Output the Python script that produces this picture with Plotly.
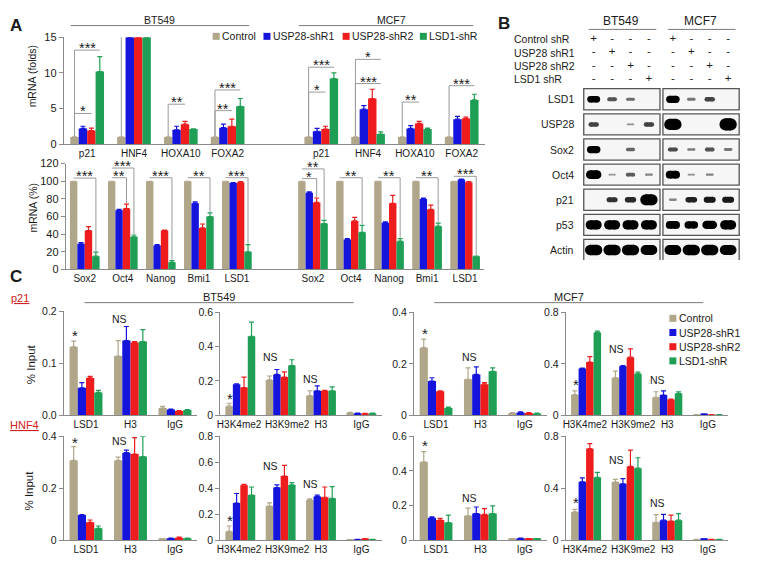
import plotly.graph_objects as go

W, H = 768, 573
FONT = "Liberation Sans, Arial, sans-serif"
AXC = "#8a8a8a"
TXT = "#1a1a1a"

SERIES = ["Control", "USP28-shR1", "USP28-shR2", "LSD1-shR"]
COLORS = ["#b0a68a", "#1414dc", "#ee1c1c", "#1f9f55"]

# ---------------- Panel A top: mRNA (folds) ----------------
A1_CATS = ["p21", "HNF4", "HOXA10", "FOXA2", "", "p21", "HNF4", "HOXA10", "FOXA2"]
A1_CTRL = [1, 1, 1, 1, None, 1, 1, 1, 1]
A1_R1 = [2.2, 15, 2.0, 2.3, None, 1.8, 4.9, 2.2, 3.5]
A1_R2 = [1.9, 15, 2.8, 2.5, None, 2.1, 6.4, 2.9, 3.6]
A1_LSD = [10.2, 15, 2.1, 5.3, None, 9.2, 1.4, 2.1, 6.2]
A1_ERR_CTRL = [0, 0, 0, 0, None, 0, 0, 0, 0]
A1_ERR_R1 = [0.3, 0, 0.5, 0.5, None, 0.4, 0.5, 0.4, 0.4]
A1_ERR_R2 = [0.35, 0, 0.4, 1.0, None, 0.4, 1.3, 0.3, 0.2]
A1_ERR_LSD = [2.1, 0, 0.05, 1.1, None, 0.8, 0.3, 0.15, 0.8]
# (category index, target series, bracket level, label)
A1_BRACKETS = [(0, 3, 13.2, "***"), (0, 2, 4.3, "*"), (1, 3, 15.5, "***"), (2, 2, 5.6, "**"),
               (3, 3, 7.6, "***"), (3, 2, 4.7, "**"), (5, 3, 10.8, "***"), (5, 2, 7.3, "*"),
               (6, 3, 11.9, "*"), (6, 3, 8.5, "***"), (7, 2, 5.9, "**"), (8, 3, 8.2, "***")]

# ---------------- Panel A bottom: mRNA (%) ----------------
A2_CATS = ["Sox2", "Oct4", "Nanog", "Bmi1", "LSD1", "", "Sox2", "Oct4", "Nanog", "Bmi1", "LSD1"]
A2_CTRL = [100, 100, 100, 100, 100, None, 100, 100, 100, 100, 100]
A2_R1 = [29, 67, 27, 75, 98, None, 87, 34, 53, 80, 102]
A2_R2 = [44, 69, 44, 47, 99, None, 76, 55, 75, 68, 99]
A2_LSD = [15, 37, 8, 60, 20, None, 52, 42, 32, 49, 15]
A2_ERR_CTRL = [0, 0, 0, 0, 0, None, 0, 0, 0, 0, 0]
A2_ERR_R1 = [1.5, 1, 1, 1.5, 0.5, None, 1, 1, 1, 1, 0.5]
A2_ERR_R2 = [4.5, 5, 0.5, 4.5, 0.5, None, 5, 4, 9, 5, 0.5]
A2_ERR_LSD = [4.5, 2, 2, 4, 8, None, 3.5, 8, 3, 3.5, 0]
A2_BRACKETS = [(0, 3, 103.6, "***"), (1, 2, 104, "**"), (1, 3, 115, "***"), (2, 3, 104, "***"),
               (3, 3, 104, "**"), (4, 3, 104, "***"), (6, 2, 103, "*"), (6, 3, 114, "**"),
               (7, 3, 104, "**"), (8, 3, 104, "**"), (9, 3, 104, "**"), (10, 3, 105.6, "***")]

# ---------------- Panel C: ChIP % input ----------------
C_CATS_A = ["LSD1", "H3", "IgG"]
C_CATS_B = ["H3K4me2", "H3K9me2", "H3", "IgG"]
# p21 promoter, BT549
C1_VALS = [[0.132, 0.114, 0.014], [0.053, 0.144, 0.011], [0.072, 0.140, 0.008], [0.044, 0.142, 0.010]]
C1_ERRS = [[0.011, 0.030, 0.003], [0.010, 0.027, 0.001], [0.003, 0.002, 0.001], [0.004, 0.023, 0.001]]
C2_VALS = [[0.053, 0.206, 0.114, 0.015], [0.181, 0.238, 0.143, 0.011], [0.162, 0.223, 0.143, 0.010], [0.461, 0.290, 0.143, 0.011]]
C2_ERRS = [[0.017, 0.023, 0.029, 0.002], [0.003, 0.029, 0.028, 0.001], [0.061, 0.030, 0.002, 0.001], [0.082, 0.034, 0.023, 0.001]]
# p21 promoter, MCF7
C3_VALS = [[0.263, 0.140, 0.009], [0.133, 0.159, 0.011], [0.093, 0.121, 0.009], [0.028, 0.171, 0.007]]
C3_ERRS = [[0.033, 0.044, 0.001], [0.013, 0.029, 0.002], [0.002, 0.006, 0.001], [0.004, 0.013, 0.001]]
C4_VALS = [[0.160, 0.292, 0.140, 0.004], [0.363, 0.381, 0.157, 0.007], [0.414, 0.452, 0.122, 0.005], [0.643, 0.323, 0.170, 0.004]]
C4_ERRS = [[0.030, 0.051, 0.043, 0.001], [0.004, 0.006, 0.033, 0.001], [0.043, 0.064, 0.004, 0.001], [0.012, 0.012, 0.013, 0.001]]
# HNF4 promoter, BT549
C5_VALS = [[0.307, 0.307, 0.004], [0.097, 0.337, 0.007], [0.069, 0.332, 0.010], [0.046, 0.322, 0.007]]
C5_ERRS = [[0.053, 0.013, 0.001], [0.002, 0.010, 0.001], [0.009, 0.063, 0.002], [0.009, 0.078, 0.001]]
C6_VALS = [[0.068, 0.263, 0.310, 0.004], [0.286, 0.406, 0.336, 0.006], [0.424, 0.494, 0.331, 0.008], [0.348, 0.426, 0.323, 0.006]]
C6_ERRS = [[0.042, 0.025, 0.008, 0.001], [0.074, 0.020, 0.012, 0.001], [0.006, 0.083, 0.079, 0.002], [0.062, 0.017, 0.090, 0.001]]
# HNF4 promoter, MCF7
C7_VALS = [[0.452, 0.141, 0.008], [0.130, 0.154, 0.011], [0.117, 0.149, 0.009], [0.102, 0.154, 0.008]]
C7_ERRS = [[0.060, 0.045, 0.002], [0.005, 0.038, 0.001], [0.009, 0.034, 0.001], [0.043, 0.044, 0.001]]
C8_VALS = [[0.218, 0.448, 0.138, 0.006], [0.450, 0.435, 0.155, 0.008], [0.705, 0.568, 0.148, 0.007], [0.485, 0.555, 0.155, 0.006]]
C8_ERRS = [[0.020, 0.020, 0.060, 0.001], [0.030, 0.040, 0.045, 0.001], [0.038, 0.125, 0.045, 0.001], [0.038, 0.080, 0.050, 0.001]]
# significance labels: (category index, text, level)
C1_MARKS = [(0, "*", 0.161), (1, "NS", 0.186)]
C2_MARKS = [(0, "*", 0.116), (1, "NS", 0.339), (2, "NS", 0.213)]
C3_MARKS = [(0, "*", 0.333), (1, "NS", 0.226)]
C4_MARKS = [(0, "*", 0.269), (1, "NS", 0.513), (2, "NS", 0.277)]
C5_MARKS = [(0, "*", 0.390), (1, "NS", 0.382)]
C6_MARKS = [(0, "*", 0.178), (1, "NS", 0.569), (2, "NS", 0.434)]
C7_MARKS = [(0, "*", 0.568), (1, "NS", 0.246)]
C8_MARKS = [(0, "*", 0.321), (1, "NS", 0.614), (2, "NS", 0.283)]

# ---------------- Panel B: western blots ----------------
CELL_LINES = ["BT549", "MCF7"]
TREATMENTS = ["Control shR", "USP28 shR1", "USP28 shR2", "LSD1 shR"]
BLOT_ROWS = ["LSD1", "USP28", "Sox2", "Oct4", "p21", "p53", "Actin"]
BLOT_BT549 = [[1.0, 0.5, 0.35, 0], [0.6, 0, 0.12, 0.6], [1.1, 0, 0.4, 0], [1.4, 0.1, 0.45, 0.2],
              [0, 0.7, 0.75, 1.8], [1.5, 1.5, 1.5, 1.5], [1.7, 1.7, 1.7, 1.6]]
BLOT_MCF7 = [[1.1, 0.3, 0.6, 0], [1.8, 0, 0, 2.0], [0.55, 0.25, 0.5, 0.3], [1.2, 0.12, 0.2, 0],
             [0.2, 0.8, 0.85, 0.85], [1.2, 1.1, 1.3, 1.5], [1.6, 1.7, 1.7, 1.6]]

# ============================================================
fig = go.Figure()
layout = {}
ann = []
shapes = []


def names(n):
    s = "" if n == 1 else str(n)
    return "x" + s, "y" + s, "xaxis" + s, "yaxis" + s


def P(xpx, ypx):
    return xpx / W, 1 - ypx / H


TICK_AXIS_BASE = 20


def add_bar_axes(n, xpx, ypx, cats, yr, ytv, ytt, xfont=10, yfont=11, label_nudge=None):
    xr, yr_, xk, yk = names(n)
    rng = [-0.5, len(cats) - 0.5]
    nudge = label_nudge or [0] * len(cats)
    layout[xk] = dict(domain=[xpx[0] / W, xpx[1] / W], anchor=yr_, range=rng,
                      tickmode="array", tickvals=[k + d for k, d in zip(range(len(cats)), nudge)],
                      ticktext=cats, ticks="",
                      tickangle=0, showline=True, linecolor=AXC, linewidth=1, showgrid=False,
                      zeroline=False, tickfont=dict(size=xfont, color=TXT), fixedrange=True)
    layout[yk] = dict(domain=[1 - ypx[1] / H, 1 - ypx[0] / H], anchor=xr, range=yr,
                      tickmode="array", tickvals=ytv, ticktext=ytt, ticks="outside", ticklen=4,
                      tickcolor=AXC, showline=True, linecolor=AXC, linewidth=1, showgrid=False,
                      zeroline=False, tickfont=dict(size=yfont, color=TXT), fixedrange=True)
    tk = "xaxis" + str(TICK_AXIS_BASE + n)
    layout[tk] = dict(overlaying=xr, anchor=yr_, range=rng, tickmode="array",
                      tickvals=[k - 0.5 for k in range(len(cats) + 1)], ticks="outside",
                      ticklen=4, tickcolor=AXC, showticklabels=False, showline=False,
                      showgrid=False, zeroline=False, fixedrange=True)


def bar_center(k, i, gw):
    return k - gw / 2 + (i + 0.5) * gw / 4


def add_bars(n, vals, errs, gw):
    xr, yr_, _, _ = names(n)
    for i in range(4):
        v, e = vals[i], errs[i]
        fig.add_trace(go.Bar(
            x=list(range(len(v))), y=v, width=gw / 4, offset=-gw / 2 + i * gw / 4,
            marker=dict(color=COLORS[i], line=dict(width=0)),
            error_y=dict(type="data", symmetric=False, array=[x if x is not None else 0 for x in e],
                         arrayminus=[0] * len(e), color=COLORS[i], thickness=1.2, width=2.5),
            xaxis=xr, yaxis=yr_, showlegend=False, hoverinfo="skip", name=SERIES[i]))


def add_brackets(n, brackets, vals, errs, gw, side, gap):
    xr, yr_, _, _ = names(n)
    for (k, t, lvl, lab) in brackets:
        x0 = bar_center(k, 0, gw)
        x1 = bar_center(k, t, gw)
        if side == "left":
            base = vals[0][k] + (errs[0][k] or 0) + gap
            xs, ys = [x0, x0, x1], [base, lvl, lvl]
        else:
            base = vals[t][k] + (errs[t][k] or 0) + gap
            xs, ys = [x0, x1, x1], [lvl, lvl, base]
        fig.add_trace(go.Scatter(x=xs, y=ys, mode="lines", line=dict(color="#9a9a9a", width=1),
                                 xaxis=xr, yaxis=yr_, showlegend=False, cliponaxis=False,
                                 hoverinfo="skip"))
        ann.append(dict(x=(x0 + x1) / 2, y=lvl, xref=xr, yref=yr_, text=lab, showarrow=False,
                        yanchor="bottom", yshift=-8, font=dict(size=14.5, color=TXT)))


def add_marks(n, marks):
    xr, yr_, _, _ = names(n)
    for (k, lab, lvl) in marks:
        star = lab == "*"
        ann.append(dict(x=k - 0.25, y=lvl, xref=xr, yref=yr_, text=lab, showarrow=False,
                        yanchor="middle", yshift=-3.5 if star else 0,
                        font=dict(size=15 if star else 10.5, color=TXT)))


# ---- Panel A top
A1_VALS = [A1_CTRL, A1_R1, A1_R2, A1_LSD]
A1_ERRS = [A1_ERR_CTRL, A1_ERR_R1, A1_ERR_R2, A1_ERR_LSD]
add_bar_axes(1, (61, 484), (32, 141), A1_CATS, [0, 15], [0, 5, 10, 15], ["0", "5", "10", "15"])
add_bars(1, A1_VALS, A1_ERRS, 0.72)
add_brackets(1, A1_BRACKETS, A1_VALS, A1_ERRS, 0.72, "left", 0.1)

# ---- Panel A bottom
A2_VALS = [A2_CTRL, A2_R1, A2_R2, A2_LSD]
A2_ERRS = [A2_ERR_CTRL, A2_ERR_R1, A2_ERR_R2, A2_ERR_LSD]
add_bar_axes(2, (63, 483), (161, 269), A2_CATS, [0, 120], [0, 20, 40, 60, 80, 100, 120],
             ["0", "20", "40", "60", "80", "100", "120"])
add_bars(2, A2_VALS, A2_ERRS, 0.78)
add_brackets(2, A2_BRACKETS, A2_VALS, A2_ERRS, 0.78, "right", 1)

# ---- Panel C
NUDGE_B = [-0.03, 0.16, 0, 0]   # label offsets (layout only) so long labels do not collide
C_SPECS = [
    (3, (61, 195), (312, 418), C_CATS_A, C1_VALS, C1_ERRS, C1_MARKS, [0, 0.2], [0, 0.1, 0.2], ["0.0", "0.1", "0.2"]),
    (4, (218, 380), (313, 418), C_CATS_B, C2_VALS, C2_ERRS, C2_MARKS, [0, 0.6], [0, 0.2, 0.4, 0.6], ["0", "0.2", "0.4", "0.6"]),
    (5, (412.5, 546), (313, 418), C_CATS_A, C3_VALS, C3_ERRS, C3_MARKS, [0, 0.4], [0, 0.2, 0.4], ["0", "0.2", "0.4"]),
    (6, (565, 728), (313, 418), C_CATS_B, C4_VALS, C4_ERRS, C4_MARKS, [0, 0.8], [0, 0.4, 0.8], ["0", "0.4", "0.8"]),
    (7, (61, 195), (439.5, 545.7), C_CATS_A, C5_VALS, C5_ERRS, C5_MARKS, [0, 0.4], [0, 0.2, 0.4], ["0", "0.2", "0.4"]),
    (8, (218, 380), (439.5, 545.7), C_CATS_B, C6_VALS, C6_ERRS, C6_MARKS, [0, 0.8], [0, 0.2, 0.4, 0.6, 0.8], ["0", "0.2", "0.4", "0.6", "0.8"]),
    (9, (412.5, 546), (439.5, 545.7), C_CATS_A, C7_VALS, C7_ERRS, C7_MARKS, [0, 0.6], [0, 0.2, 0.4, 0.6], ["0", "0.2", "0.4", "0.6"]),
    (10, (565, 728), (439.5, 545.7), C_CATS_B, C8_VALS, C8_ERRS, C8_MARKS, [0, 0.8], [0, 0.4, 0.8], ["0", "0.4", "0.8"]),
]
for (n, xpx, ypx, cats, vals, errs, marks, yr, ytv, ytt) in C_SPECS:
    nud = NUDGE_B if cats is C_CATS_B else None
    add_bar_axes(n, xpx, ypx, cats, yr, ytv, ytt, xfont=10, yfont=10.5, label_nudge=nud)
    add_bars(n, vals, errs, 0.74)
    add_marks(n, marks)

# ---- Panel B (blot axis n=11)
xr, yr_, xk, yk = names(11)
layout[xk] = dict(domain=[500 / W, 740 / W], anchor=yr_, range=[-5.03, 7.95], visible=False, fixedrange=True)
layout[yk] = dict(domain=[1 - 259.5 / H, 1 - 8 / H], anchor=xr, range=[6.4, -3.4], visible=False, fixedrange=True)
LANE_START = [0, 4.3]
blots = [BLOT_BT549, BLOT_MCF7]
for c, cell in enumerate(CELL_LINES):
    lanes = [LANE_START[c] + j for j in range(len(TREATMENTS))]
    ann.append(dict(x=sum(lanes) / len(lanes), y=-3.13, xref=xr, yref=yr_, text=cell, showarrow=False,
                    font=dict(size=12, color=TXT)))
    shapes.append(dict(type="line", xref=xr, yref=yr_, x0=lanes[0] - 0.27, x1=lanes[-1] + 0.4,
                       y0=-2.78, y1=-2.78, line=dict(color="#7a7a7a", width=1)))
    xs, ys, ts = [], [], []
    for r in range(len(TREATMENTS)):
        for j, xl in enumerate(lanes):
            xs.append(xl)
            ys.append(-2.39 + r * 0.533)
            ts.append("+" if j == r else "-")
    fig.add_trace(go.Scatter(x=xs, y=ys, text=ts, mode="text", textfont=dict(size=11.5, color=TXT),
                             xaxis=xr, yaxis=yr_, showlegend=False, hoverinfo="skip", cliponaxis=False))
    for r, row in enumerate(BLOT_ROWS):
        shapes.append(dict(type="rect", xref=xr, yref=yr_, x0=lanes[0] - 0.54, x1=lanes[-1] + 0.6,
                           y0=r - 0.42, y1=r + 0.42, line=dict(color="#555555", width=1.3),
                           fillcolor="#f6f6f6", layer="below"))
        for xl, I in zip(lanes, blots[c][r]):
            if I <= 0:
                continue
            a = min(1.0, 0.3 + 0.7 * I)
            g = int(round(240 * (1 - a)))
            col = f"rgb({g},{g},{g})"
            w = 1.2 + 5.5 * I
            hl = max(0.02, 0.18 + 0.17 * min(I, 1.7) - (w / 2) / 18.49)
            fig.add_trace(go.Scatter(x=[xl - hl, xl + hl], y=[r, r], mode="lines+markers",
                                     line=dict(color=col, width=w),
                                     marker=dict(size=w, color=col, line=dict(width=0)),
                                     xaxis=xr, yaxis=yr_, showlegend=False, hoverinfo="skip"))
for r, t in enumerate(TREATMENTS):
    ann.append(dict(x=-4.43, y=-2.39 + r * 0.533, xref=xr, yref=yr_, text=t, showarrow=False,
                    xanchor="left", font=dict(size=10.5, color=TXT)))
for r, row in enumerate(BLOT_ROWS):
    ann.append(dict(x=-0.97, y=r, xref=xr, yref=yr_, text=row, showarrow=False,
                    xanchor="right", font=dict(size=10.5, color=TXT)))

# ---- overlay axis (n=12) in pixel units for legends
xo, yo, xk, yk = names(12)
layout[xk] = dict(domain=[0, 1], anchor=yo, range=[0, W], visible=False, fixedrange=True)
layout[yk] = dict(domain=[0, 1], anchor=xo, range=[H, 0], visible=False, fixedrange=True)
LEG_A_X = [214, 265, 344.5, 422]
fig.add_trace(go.Scatter(x=LEG_A_X, y=[31] * 4, mode="markers",
                         marker=dict(symbol="square", size=7, color=COLORS, line=dict(width=0)),
                         xaxis=xo, yaxis=yo, showlegend=False, hoverinfo="skip"))
for x, s in zip(LEG_A_X, SERIES):
    ann.append(dict(x=x + 4, y=31, xref=xo, yref=yo, text=s, showarrow=False, xanchor="left",
                    font=dict(size=10.5, color=TXT)))
LEG_C_Y = [319, 333.5, 348, 362.5]
fig.add_trace(go.Scatter(x=[672.5] * 4, y=LEG_C_Y, mode="markers",
                         marker=dict(symbol="square", size=7, color=COLORS, line=dict(width=0)),
                         xaxis=xo, yaxis=yo, showlegend=False, hoverinfo="skip"))
for y, s in zip(LEG_C_Y, SERIES):
    ann.append(dict(x=677, y=y, xref=xo, yref=yo, text=s, showarrow=False, xanchor="left",
                    font=dict(size=10.5, color=TXT)))


def text_px(x, y, t, size=12, bold=False, color=TXT, angle=0, xanchor="center"):
    px_, py_ = P(x, y)
    ann.append(dict(x=px_, y=py_, xref="paper", yref="paper", text=f"<b>{t}</b>" if bold else t,
                    showarrow=False, textangle=angle, xanchor=xanchor, yanchor="middle",
                    font=dict(size=size, color=color)))


def line_px(x0, x1, y):
    a0, b0 = P(x0, y)
    a1, _ = P(x1, y)
    shapes.append(dict(type="line", xref="paper", yref="paper", x0=a0, x1=a1, y0=b0, y1=b0,
                       line=dict(color="#7a7a7a", width=1)))


text_px(13, 20, "A", 17, True)
text_px(503, 18, "B", 17, True)
text_px(13, 276, "C", 17, True)
text_px(157, 14, "BT549", 10.5)
line_px(68, 247, 20)
text_px(390, 14, "MCF7", 10.5)
line_px(297, 472, 20)
text_px(217, 297, "BT549", 11)
line_px(82, 352, 303)
text_px(568, 297, "MCF7", 11)
line_px(433, 703, 303)
text_px(30, 72, "mRNA (folds)", 10.5, angle=-90)
text_px(30, 206, "mRNA (%)", 10.5, angle=-90)
text_px(28, 366, "% Input", 11.5, angle=-90)
text_px(26, 495, "% Input", 11.5, angle=-90)
text_px(6, 298, "<u>p21</u>", 11, color="#d42020", xanchor="left")
text_px(5, 428, "<u>HNF4</u>", 11, color="#d42020", xanchor="left")

layout.update(width=W, height=H, margin=dict(l=0, r=0, t=0, b=0), paper_bgcolor="white",
              plot_bgcolor="rgba(0,0,0,0)", font=dict(family=FONT, size=11, color=TXT),
              barmode="overlay", showlegend=False, annotations=ann, shapes=shapes)
fig.update_layout(**layout)
fig.write_html("out.html", config={"displayModeBar": False},
               post_script="document.body.style.margin='0px';document.body.style.overflow='hidden';")
